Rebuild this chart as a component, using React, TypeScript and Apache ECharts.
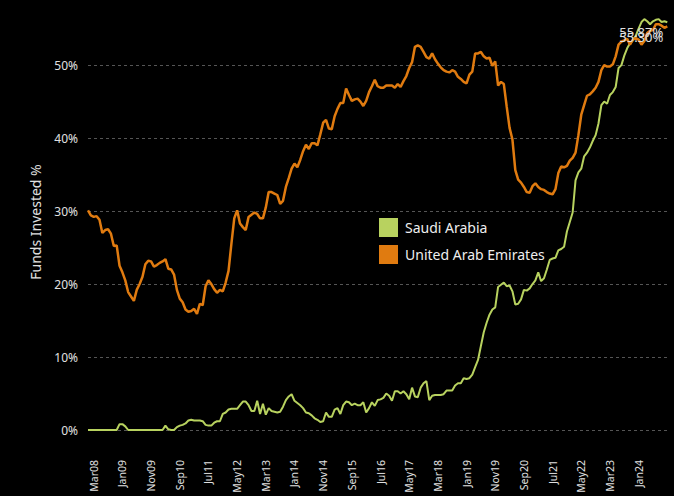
import React, { useEffect, useRef } from "react";
import * as echarts from "echarts";

const MONTHS = ["Jan", "Feb", "Mar", "Apr", "May", "Jun", "Jul", "Aug", "Sep", "Oct", "Nov", "Dec"];
const START_YEAR = 2008;
const N_POINTS = 203;
const categories: string[] = Array.from({ length: N_POINTS }, (_, i) => {
  const m = i % 12;
  const y = START_YEAR + Math.floor(i / 12);
  return MONTHS[m] + String(y % 100).padStart(2, "0");
});

const saudiArabia: number[] = [
  0, 0, 0, 0, 0, 0, 0, 0, 0, 0,
  0, 0.8, 0.8, 0.5, 0, 0, 0, 0, 0, 0,
  0, 0, 0, 0, 0, 0, 0, 0.6, 0.1, 0,
  0, 0.4, 0.6, 0.7, 0.9, 1.3, 1.4, 1.3, 1.3, 1.3,
  1.2, 0.7, 0.6, 0.6, 1.0, 1.2, 1.2, 2.2, 2.4, 2.8,
  2.9, 2.9, 2.9, 3.4, 3.9, 3.9, 3.4, 2.6, 2.6, 4.0,
  2.2, 3.6, 2.1, 3.0, 2.6, 2.5, 2.4, 2.5, 3.2, 4.1,
  4.6, 4.9, 4.0, 3.7, 3.4, 3.0, 2.4, 2.3, 2.0, 1.6,
  1.4, 1.1, 1.2, 2.4, 1.8, 1.8, 2.8, 3.0, 2.2, 3.4,
  3.9, 3.8, 3.4, 3.6, 3.4, 3.4, 3.8, 2.4, 3.0, 3.8,
  3.3, 4.1, 4.2, 4.4, 5.0, 4.7, 4.0, 5.3, 5.3, 5.0,
  5.3, 4.9, 4.2, 5.8, 4.6, 4.5, 5.8, 6.4, 6.7, 4.1,
  4.7, 4.8, 4.8, 4.8, 4.9, 5.4, 5.4, 5.4, 6.1, 6.4,
  6.4, 7.1, 7.0, 7.1, 7.6, 8.6, 9.6, 11.5, 13.4, 14.7,
  15.8, 16.5, 16.8, 19.6, 19.9, 20.2, 19.7, 19.8, 19.0, 17.2,
  17.3, 17.9, 19.2, 19.1, 19.4, 20.0, 20.5, 21.6, 20.4, 20.8,
  22.0, 23.3, 23.5, 23.6, 24.6, 24.8, 25.1, 27.2, 28.5, 29.8,
  34.2, 35.3, 35.8, 37.5, 38.0, 38.7, 39.6, 40.4, 42.0, 44.5,
  45.0, 44.7, 45.9, 46.3, 47.0, 49.6, 50.0, 51.3, 52.3, 53.0,
  53.4, 54.0, 55.0, 55.9, 56.3, 56.0, 55.6, 56.0, 56.2, 56.3,
  55.9, 56.0, 55.87,
];

const unitedArabEmirates: number[] = [
  30.1, 29.4, 29.2, 29.3, 28.8, 27.0, 27.4, 27.5, 26.9, 25.2,
  25.3, 22.5, 21.6, 20.5, 18.9, 18.3, 17.7, 19.2, 20.0, 21.0,
  22.7, 23.2, 23.1, 22.4, 22.6, 22.9, 23.1, 23.4, 22.1, 22.0,
  21.3, 19.2, 18.0, 17.5, 16.5, 16.2, 16.3, 16.6, 15.9, 17.3,
  17.1, 19.7, 20.5, 20.0, 19.3, 18.8, 19.2, 19.0, 20.2, 21.8,
  25.5, 29.0, 30.1, 28.3, 27.8, 27.4, 29.2, 29.5, 29.8, 29.6,
  29.0, 29.0, 30.5, 32.6, 32.6, 32.4, 32.2, 31.0, 31.4, 33.3,
  34.5, 35.8, 36.5, 36.0, 37.0, 38.2, 39.1, 38.5, 39.3, 39.3,
  39.0, 40.5, 42.1, 42.5, 41.3, 41.2, 43.0, 44.0, 44.8, 44.8,
  46.8, 45.9, 45.1, 45.3, 45.4, 45.0, 44.4, 45.1, 46.3, 47.1,
  48.0, 47.1, 46.9, 46.9, 47.2, 47.2, 47.2, 46.9, 47.4, 47.0,
  47.8, 48.5, 49.6, 50.4, 52.5, 52.7, 52.5, 51.8, 51.1, 50.9,
  51.6, 50.8, 50.2, 49.7, 49.3, 49.1, 49.0, 49.3, 49.1, 48.4,
  48.1, 47.7, 47.5, 48.7, 49.1, 51.6, 51.6, 51.8, 51.2, 50.9,
  51.0, 49.9, 50.5, 47.2, 47.7, 47.4, 44.3, 41.4, 39.8, 35.6,
  34.3, 33.9, 33.3, 32.6, 32.5, 33.4, 33.8, 33.3, 33.0, 32.9,
  32.6, 32.4, 32.3, 33.0, 35.2, 36.1, 36.0, 36.2, 36.9, 37.3,
  38.0, 40.4, 43.2, 44.5, 45.8, 46.0, 46.4, 46.9, 47.7, 49.3,
  50.0, 49.8, 49.8, 50.1, 51.2, 52.8, 53.2, 53.4, 53.6, 52.8,
  53.5, 53.7, 53.5, 52.8, 53.3, 54.4, 54.7, 54.8, 55.6, 55.6,
  55.4, 55.1, 55.3,
];

const SERIES_NAMES = ["Saudi Arabia", "United Arab Emirates"];
const GREEN = "#b8d25f";
const ORANGE = "#e07b10";
const FONT = "'Noto Sans', 'Open Sans', sans-serif";

function endMark(values: number[], dy: number) {
  const last = values.length - 1;
  return {
    silent: true,
    symbol: "circle",
    symbolSize: 0,
    data: [
      {
        coord: [last, values[last]],
        value: values[last],
        label: {
          show: true,
          position: "left",
          distance: 4,
          offset: [0, dy],
          formatter: (p: any) => Number(p.value).toFixed(2) + "%",
          color: "#e0e0e0",
          fontSize: 13,
          fontFamily: FONT,
        },
      },
    ],
  };
}

export default function App() {
  const ref = useRef<HTMLDivElement>(null);
  useEffect(() => {
    if (!ref.current) return;
    const chart = echarts.init(ref.current, undefined, { renderer: "svg" });
    chart.setOption({
      animation: false,
      backgroundColor: "#000000",
      grid: { left: 88, right: 6.7, top: 14, bottom: 66, containLabel: false },
      legend: {
        orient: "vertical",
        left: 374,
        top: 213,
        icon: "rect",
        itemWidth: 19,
        itemHeight: 19,
        itemGap: 8,
        data: SERIES_NAMES,
        textStyle: { color: "#eeeeee", fontSize: 14, fontFamily: FONT, padding: [0, 0, 0, 2] },
      },
      xAxis: {
        type: "category",
        data: categories,
        boundaryGap: false,
        axisLine: { show: false },
        axisTick: { show: false },
        splitLine: { show: false },
        axisLabel: {
          rotate: 90,
          margin: 30,
          color: "#e0e0e0",
          fontSize: 10.5,
          fontFamily: FONT,
          interval: (index: number) => index >= 2 && index <= 192 && (index - 2) % 10 === 0,
        },
      },
      yAxis: {
        type: "value",
        min: 0,
        max: 57,
        interval: 10,
        name: "Funds Invested %",
        nameLocation: "middle",
        nameGap: 46,
        nameTextStyle: { color: "#e0e0e0", fontSize: 14, fontFamily: FONT, padding: [0, 0, 0, 0] },
        axisLine: { show: false },
        axisTick: { show: false },
        axisLabel: {
          color: "#e0e0e0",
          fontSize: 12,
          fontFamily: FONT,
          margin: 10,
          showMaxLabel: false,
          formatter: (v: number) => (v % 10 === 0 ? v + "%" : ""),
        },
        splitLine: {
          show: true,
          showMaxLine: false,
          lineStyle: { color: "#555555", type: [3, 3], width: 1 },
        },
      },
      series: [
        {
          name: SERIES_NAMES[0],
          type: "line",
          data: saudiArabia,
          showSymbol: false,
          symbol: "none",
          color: GREEN,
          lineStyle: { width: 2, color: GREEN },
          markPoint: endMark(saudiArabia, 10),
        },
        {
          name: SERIES_NAMES[1],
          type: "line",
          data: unitedArabEmirates,
          showSymbol: false,
          symbol: "none",
          color: ORANGE,
          lineStyle: { width: 2.5, color: ORANGE },
          markPoint: endMark(unitedArabEmirates, 11),
        },
      ],
    });
    return () => chart.dispose();
  }, []);
  return (
    <div
      ref={ref}
      style={{ position: "absolute", left: 0, top: 0, width: 674, height: 496, background: "#000" }}
    />
  );
}
